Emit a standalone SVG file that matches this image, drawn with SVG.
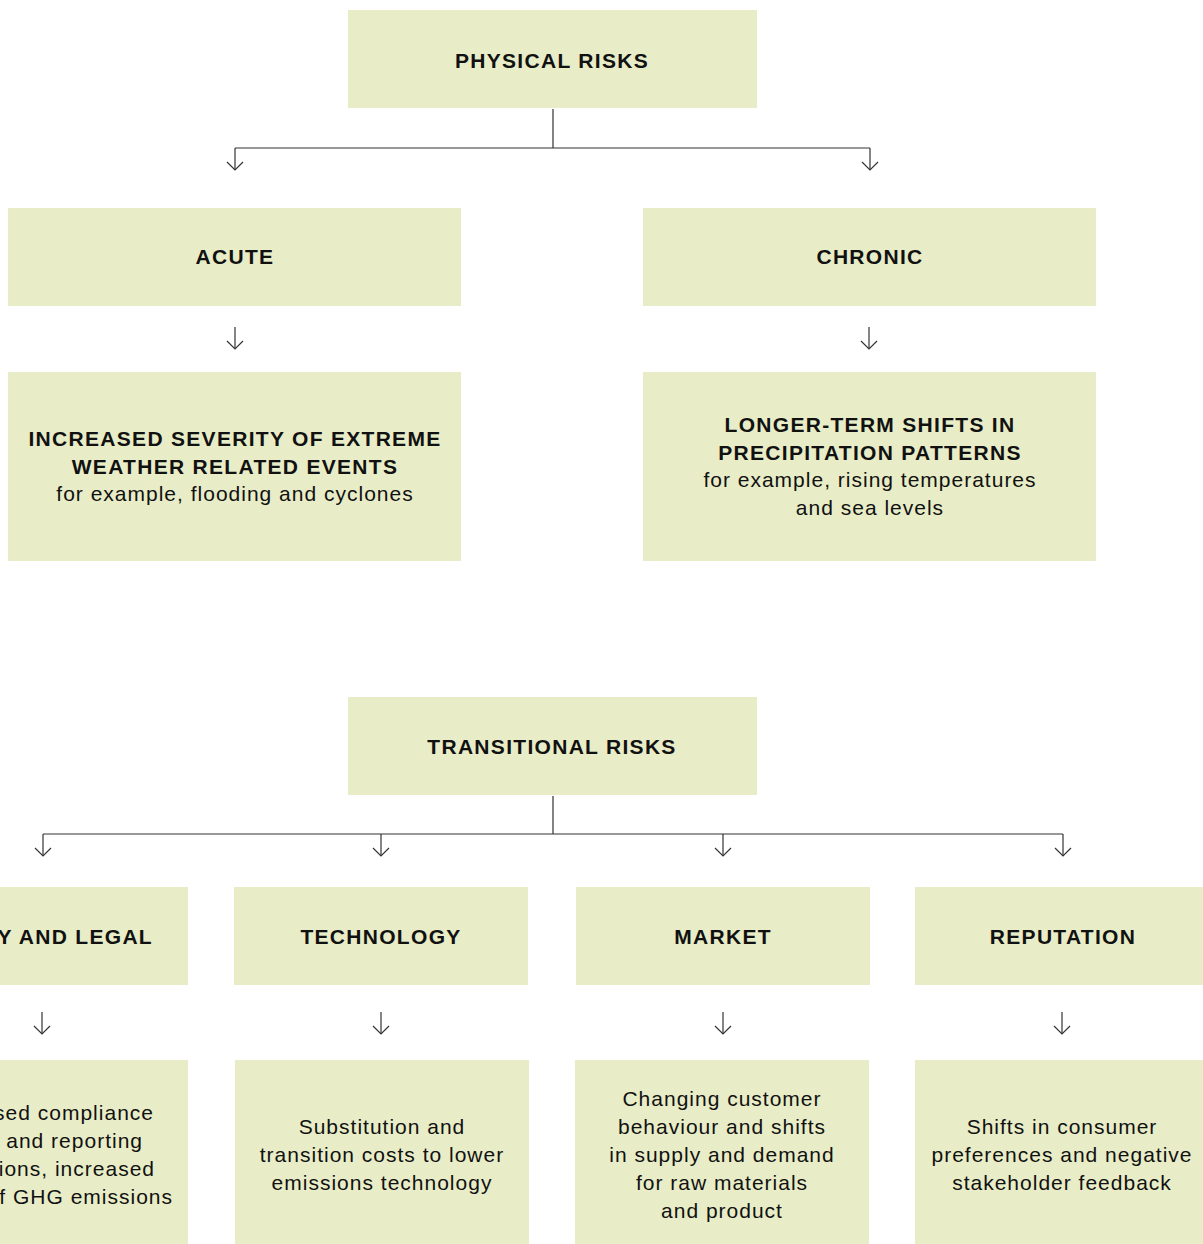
<svg xmlns="http://www.w3.org/2000/svg" width="1203" height="1244" viewBox="0 0 1203 1244">
<defs>
<marker id="ah" markerWidth="20" markerHeight="20" refX="10" refY="10" markerUnits="userSpaceOnUse" orient="auto">
<polyline points="2,2 10,10 2,18" fill="none" stroke="#333" stroke-width="1.2"/>
</marker>
<style>
.box{fill:#e8edc7}
.t{font-family:"Liberation Sans",Arial,sans-serif;font-weight:bold;font-size:21px;letter-spacing:1.3px;fill:#111;text-anchor:middle}
.b{font-family:"Liberation Sans",Arial,sans-serif;font-size:21px;letter-spacing:1px;fill:#111;text-anchor:middle}
.c{fill:none;stroke:#333;stroke-width:1.2}
</style>
</defs>
<rect width="1203" height="1244" fill="#fff"/>
<g id="connectors" class="c">
<path d="M553,109 V148 M235,148 H870"/>
<path d="M235,148 V170" marker-end="url(#ah)"/>
<path d="M870,148 V170" marker-end="url(#ah)"/>
<path d="M235,327 V349" marker-end="url(#ah)"/>
<path d="M869,327 V349" marker-end="url(#ah)"/>
<path d="M553,796 V834 M43,834 H1063"/>
<path d="M43,834 V856" marker-end="url(#ah)"/>
<path d="M381,834 V856" marker-end="url(#ah)"/>
<path d="M723,834 V856" marker-end="url(#ah)"/>
<path d="M1063,834 V856" marker-end="url(#ah)"/>
<path d="M42,1012 V1034" marker-end="url(#ah)"/>
<path d="M381,1012 V1034" marker-end="url(#ah)"/>
<path d="M723,1012 V1034" marker-end="url(#ah)"/>
<path d="M1062,1012 V1034" marker-end="url(#ah)"/>
</g>
<g id="physical">
<rect class="box" x="348" y="10" width="409" height="98"/>
<text class="t" x="552" y="68">PHYSICAL RISKS</text>
</g>
<g id="acute">
<rect class="box" x="8" y="208" width="453" height="98"/>
<text class="t" x="235" y="264">ACUTE</text>
</g>
<g id="chronic">
<rect class="box" x="643" y="208" width="453" height="98"/>
<text class="t" x="870" y="264">CHRONIC</text>
</g>
<g id="acute-detail">
<rect class="box" x="8" y="372" width="453" height="189"/>
<text class="t" x="235" y="446">INCREASED SEVERITY OF EXTREME</text>
<text class="t" x="235" y="474">WEATHER RELATED EVENTS</text>
<text class="b" x="235" y="501">for example, flooding and cyclones</text>
</g>
<g id="chronic-detail">
<rect class="box" x="643" y="372" width="453" height="189"/>
<text class="t" x="870" y="432">LONGER-TERM SHIFTS IN</text>
<text class="t" x="870" y="460">PRECIPITATION PATTERNS</text>
<text class="b" x="870" y="487">for example, rising temperatures</text>
<text class="b" x="870" y="515">and sea levels</text>
</g>
<g id="transitional">
<rect class="box" x="348" y="697" width="409" height="98"/>
<text class="t" x="552" y="754">TRANSITIONAL RISKS</text>
</g>
<g id="policy">
<rect class="box" x="-110" y="887" width="298" height="98"/>
<text class="t" x="153" y="944" style="text-anchor:end">Y AND LEGAL</text>
</g>
<g id="technology">
<rect class="box" x="234" y="887" width="294" height="98"/>
<text class="t" x="381" y="944">TECHNOLOGY</text>
</g>
<g id="market">
<rect class="box" x="576" y="887" width="294" height="98"/>
<text class="t" x="723" y="944">MARKET</text>
</g>
<g id="reputation">
<rect class="box" x="915" y="887" width="300" height="98"/>
<text class="t" x="1063" y="944">REPUTATION</text>
</g>
<g id="policy-detail">
<rect class="box" x="-110" y="1060" width="298" height="184"/>
<text class="b" x="154" y="1120" style="text-anchor:end">sed compliance</text>
<text class="b" x="143" y="1148" style="text-anchor:end">and reporting</text>
<text class="b" x="155" y="1176" style="text-anchor:end">ions, increased</text>
<text class="b" x="173" y="1204" style="text-anchor:end">f GHG emissions</text>
</g>
<g id="technology-detail">
<rect class="box" x="235" y="1060" width="294" height="184"/>
<text class="b" x="382" y="1134">Substitution and</text>
<text class="b" x="382" y="1162">transition costs to lower</text>
<text class="b" x="382" y="1190">emissions technology</text>
</g>
<g id="market-detail">
<rect class="box" x="575" y="1060" width="294" height="184"/>
<text class="b" x="722" y="1106">Changing customer</text>
<text class="b" x="722" y="1134">behaviour and shifts</text>
<text class="b" x="722" y="1162">in supply and demand</text>
<text class="b" x="722" y="1190">for raw materials</text>
<text class="b" x="722" y="1218">and product</text>
</g>
<g id="reputation-detail">
<rect class="box" x="915" y="1060" width="300" height="184"/>
<text class="b" x="1062" y="1134">Shifts in consumer</text>
<text class="b" x="1062" y="1162">preferences and negative</text>
<text class="b" x="1062" y="1190">stakeholder feedback</text>
</g>
</svg>
